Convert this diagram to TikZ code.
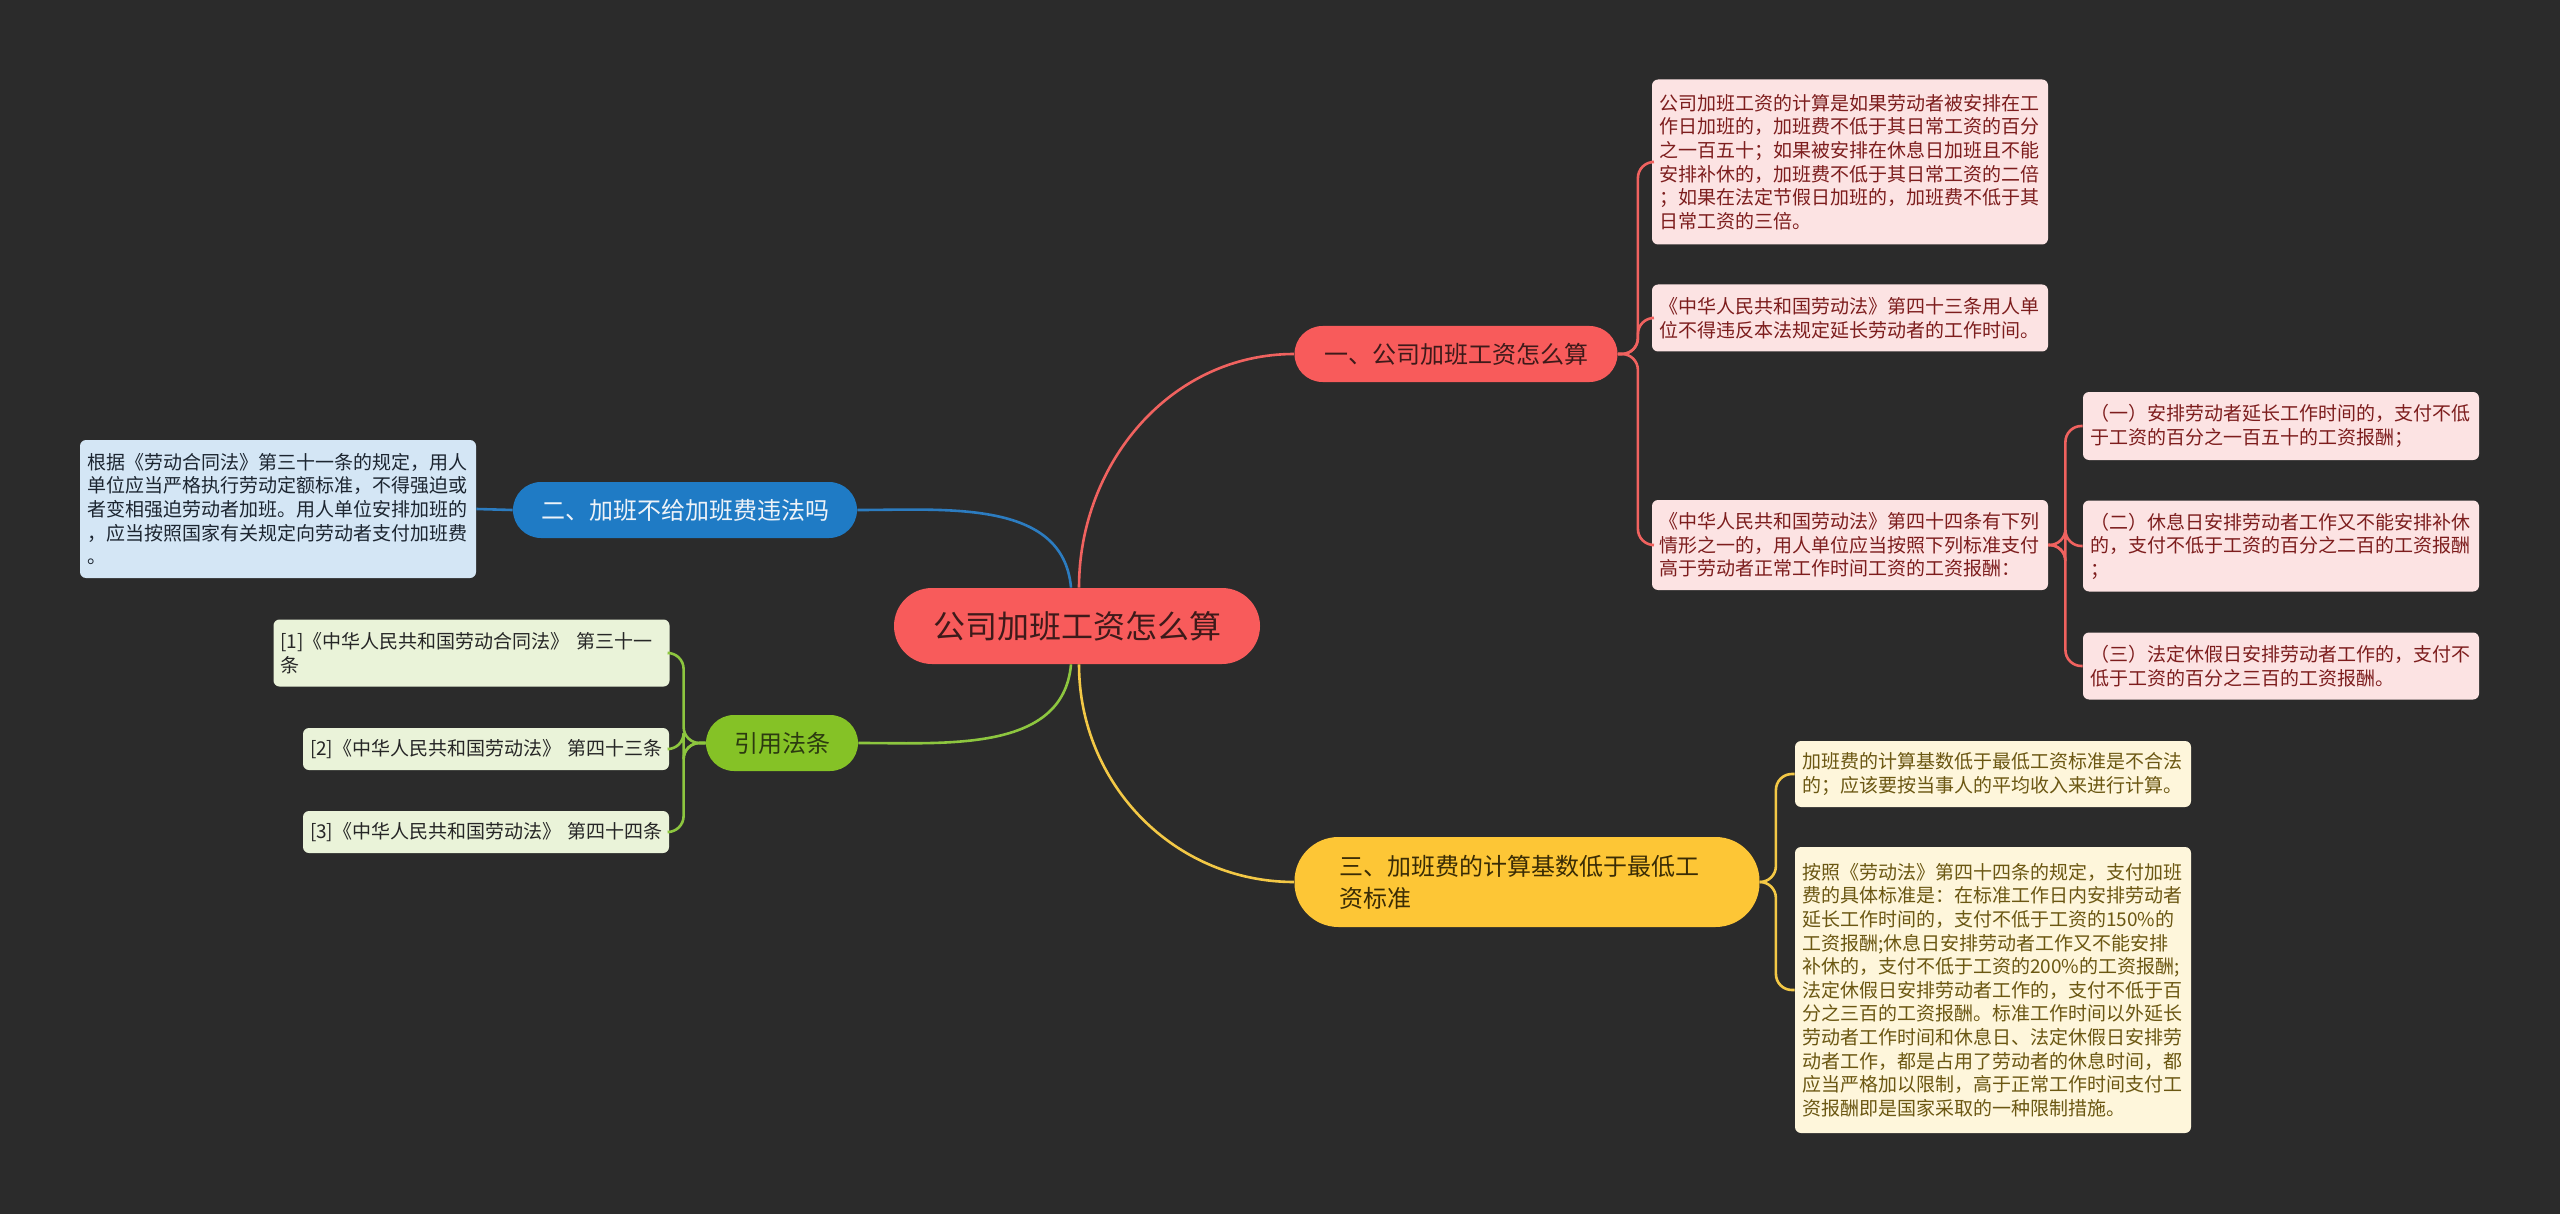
\documentclass[tikz,border=0pt]{standalone}
\usepackage{fontspec}
\setmainfont{Noto Sans CJK SC}
\usepackage{tikz}
\usetikzlibrary{positioning}

\definecolor{bgdark}{HTML}{2B2B2B}
\definecolor{rootred}{HTML}{F85B5B}
\definecolor{roottext}{HTML}{3E1A1A}
\definecolor{redline}{HTML}{F0625F}
\definecolor{redleaf}{HTML}{FCE3E3}
\definecolor{redtext}{HTML}{7D1D1D}
\definecolor{topicblue}{HTML}{1F7BC5}
\definecolor{bluetext}{HTML}{EEF3F8}
\definecolor{blueline}{HTML}{2C7CC0}
\definecolor{blueleaf}{HTML}{D4E6F5}
\definecolor{blueleaftext}{HTML}{1C2530}
\definecolor{topicgreen}{HTML}{85C226}
\definecolor{greentext}{HTML}{2C3A10}
\definecolor{greenline}{HTML}{8DC63F}
\definecolor{greenleaf}{HTML}{EAF3D9}
\definecolor{greenleaftext}{HTML}{262626}
\definecolor{topicyellow}{HTML}{FDC636}
\definecolor{yellowtext}{HTML}{3A2C05}
\definecolor{yellowline}{HTML}{F3C846}
\definecolor{yellowleaf}{HTML}{FEF6DB}
\definecolor{yellowleaftext}{HTML}{6B5712}

\tikzset{
	rootbox/.style={fill=rootred, text=roottext, rounded corners=19pt,
		minimum width=183pt, minimum height=38pt, inner sep=0pt,
		font=\fontsize{16}{20}\selectfont},
	topicbox/.style={minimum height=28pt, inner sep=0pt,
		font=\fontsize{12}{16}\selectfont},
	leafbox/.style={rounded corners=3pt, align=left, inner xsep=3.5pt, inner ysep=0pt,
		text width=191pt, font=\fontsize{9.5}{11.8}\selectfont},
	redcard/.style={leafbox, fill=redleaf, text=redtext},
	bluecard/.style={leafbox, fill=blueleaf, text=blueleaftext},
	greencard/.style={leafbox, fill=greenleaf, text=greenleaftext},
	yellowcard/.style={leafbox, fill=yellowleaf, text=yellowleaftext},
	link/.style={line width=1.3pt},
}

\begin{document}
\begin{tikzpicture}[x=0.5pt, y=-0.5pt]

\useasboundingbox (0,0) rectangle (2560,1214);
\fill [bgdark] (0,0) rectangle (2560,1214);

% Root
\node [rootbox] (root) at (1077, 626) {
公司加班工资怎么算
};

% Topic 1
\node [topicbox,
	fill=rootred,
	text=roottext,
	minimum width=161.5pt,
	rounded corners=14pt
] (calc_topic) at (1456, 354) {
一、公司加班工资怎么算
};

% Topic 2
\node [topicbox,
	fill=topicblue,
	text=bluetext,
	minimum width=172pt,
	rounded corners=14pt
] (law_topic) at (685, 510) {
二、加班不给加班费违法吗
};

% Topic 3
\node [topicbox,
	fill=topicyellow,
	text=yellowtext,
	text width=187.5pt,
	align=left,
	inner xsep=22.5pt,
	minimum height=45pt,
	rounded corners=22pt
] (base_topic) at (1527, 882) {
三、加班费的计算基数低于最低工\\
资标准
};

% Topic 4
\node [topicbox,
	fill=topicgreen,
	text=greentext,
	minimum width=76pt,
	rounded corners=14pt
] (cite_topic) at (782, 743) {
引用法条
};

% Calc rule
\node [redcard,
	minimum height=82.5pt
] (calc_rule) at (1850, 162) {
公司加班工资的计算是如果劳动者被安排在工\\
作日加班的，加班费不低于其日常工资的百分\\
之一百五十；如果被安排在休息日加班且不能\\
安排补休的，加班费不低于其日常工资的二倍\\
；如果在法定节假日加班的，加班费不低于其\\
日常工资的三倍。
};

% Article 43
\node [redcard,
	minimum height=33.5pt
] (art_43) at (1850, 318) {
《中华人民共和国劳动法》第四十三条用人单\\
位不得违反本法规定延长劳动者的工作时间。
};

% Article 44
\node [redcard,
	minimum height=45pt
] (art_44) at (1850, 545) {
《中华人民共和国劳动法》第四十四条有下列\\
情形之一的，用人单位应当按照下列标准支付\\
高于劳动者正常工作时间工资的工资报酬：
};

% Article 44 item 1
\node [redcard,
	minimum height=34pt
] (art_44_a) at (2281, 426) {
（一）安排劳动者延长工作时间的，支付不低\\
于工资的百分之一百五十的工资报酬；
};

% Article 44 item 2
\node [redcard,
	minimum height=45.5pt
] (art_44_b) at (2281, 546) {
（二）休息日安排劳动者工作又不能安排补休\\
的，支付不低于工资的百分之二百的工资报酬\\
；
};

% Article 44 item 3
\node [redcard,
	minimum height=33.5pt
] (art_44_c) at (2281, 666) {
（三）法定休假日安排劳动者工作的，支付不\\
低于工资的百分之三百的工资报酬。
};

% Contract law
\node [bluecard,
	minimum height=69pt
] (contract_law) at (278, 509) {
根据《劳动合同法》第三十一条的规定，用人\\
单位应当严格执行劳动定额标准，不得强迫或\\
者变相强迫劳动者加班。用人单位安排加班的\\
，应当按照国家有关规定向劳动者支付加班费\\
。
};

% Base rule
\node [yellowcard,
	minimum height=33pt
] (base_rule) at (1993, 774) {
加班费的计算基数低于最低工资标准是不合法\\
的；应该要按当事人的平均收入来进行计算。
};

% Pay standard
\node [yellowcard,
	minimum height=143pt
] (pay_standard) at (1993, 990) {
按照《劳动法》第四十四条的规定，支付加班\\
费的具体标准是：在标准工作日内安排劳动者\\
延长工作时间的，支付不低于工资的150\%的\\
工资报酬;休息日安排劳动者工作又不能安排\\
补休的，支付不低于工资的200\%的工资报酬;\\
法定休假日安排劳动者工作的，支付不低于百\\
分之三百的工资报酬。标准工作时间以外延长\\
劳动者工作时间和休息日、法定休假日安排劳\\
动者工作，都是占用了劳动者的休息时间，都\\
应当严格加以限制，高于正常工作时间支付工\\
资报酬即是国家采取的一种限制措施。
};

% Citation 1
\node [greencard,
	minimum height=33.5pt
] (cite_1) at (471.5, 653) {
[1]《中华人民共和国劳动合同法》~第三十一\\
条
};

% Citation 2
\node [greencard,
	text width=176pt,
	minimum height=21pt
] (cite_2) at (486, 749) {
[2]《中华人民共和国劳动法》~第四十三条
};

% Citation 3
\node [greencard,
	text width=176pt,
	minimum height=21pt
] (cite_3) at (486, 832) {
[3]《中华人民共和国劳动法》~第四十四条
};

% Forks
\coordinate (calc_fork) at ([xshift=10pt]calc_topic.east);
\coordinate (art_44_fork) at ([xshift=8.5pt]art_44.east);
\coordinate (base_fork) at ([xshift=8pt]base_topic.east);
\coordinate (cite_fork) at ([xshift=-11pt]cite_topic.west);

% Arrows from root
\draw [link, redline] ([xshift=1pt]root.north) to[out=90, in=180] (calc_topic.west);
\draw [link, blueline] ([xshift=-3pt]root.north) to[out=95, in=0] (law_topic.east);
\draw [link, yellowline] ([xshift=1pt]root.south) to[out=-90, in=180] (base_topic.west);
\draw [link, greenline] ([xshift=-3pt]root.south) to[out=-95, in=0] (cite_topic.east);

% Branches
\draw [link, redline, rounded corners=8pt] (calc_topic.east) -- (calc_fork) |- (calc_rule.west);
\draw [link, redline, rounded corners=8pt] (calc_topic.east) -- (calc_fork) |- (art_43.west);
\draw [link, redline, rounded corners=8pt] (calc_topic.east) -- (calc_fork) |- (art_44.west);
\draw [link, redline, rounded corners=8pt] (art_44.east) -- (art_44_fork) |- (art_44_a.west);
\draw [link, redline, rounded corners=8pt] (art_44.east) -- (art_44_fork) |- (art_44_b.west);
\draw [link, redline, rounded corners=8pt] (art_44.east) -- (art_44_fork) |- (art_44_c.west);
\draw [link, blueline] (law_topic.west) -- (contract_law.east);
\draw [link, yellowline, rounded corners=8pt] (base_topic.east) -- (base_fork) |- (base_rule.west);
\draw [link, yellowline, rounded corners=8pt] (base_topic.east) -- (base_fork) |- (pay_standard.west);
\draw [link, greenline, rounded corners=8pt] (cite_topic.west) -- (cite_fork) |- (cite_1.east);
\draw [link, greenline, rounded corners=8pt] (cite_topic.west) -- (cite_fork) |- (cite_2.east);
\draw [link, greenline, rounded corners=8pt] (cite_topic.west) -- (cite_fork) |- (cite_3.east);

\end{tikzpicture}
\end{document}
